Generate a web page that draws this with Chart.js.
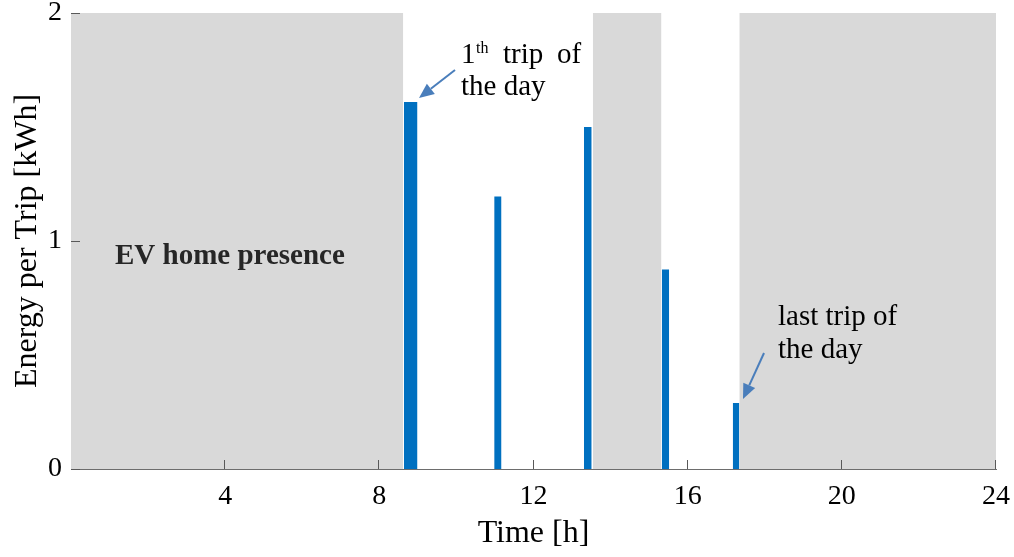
<!DOCTYPE html>
<html>
<head>
<meta charset="utf-8">
<script src="https://cdn.jsdelivr.net/npm/chart.js@4.4.1/dist/chart.umd.min.js"></script>
<style>
    body { margin: 0; background: #fff; }
    #wrap { width: 1014px; height: 557px; }
</style>
</head>
<body>
<div id="wrap"><canvas id="tripChart" width="1014" height="557"></canvas></div>
<script>
// Trips of the day: start / end time [h] and energy [kWh]
const tripStart = [8.64, 10.98, 13.31, 15.33, 17.17];
const tripEnd = [8.99, 11.17, 13.51, 15.52, 17.34];
const tripEnergy = [1.61, 1.195, 1.50, 0.875, 0.29];

// Periods when the EV is parked at home [h]
const homeStart = [0, 13.54, 17.34];
const homeEnd = [8.62, 15.32, 24];

const xTicks = [4, 8, 12, 16, 20, 24];
const yTicks = [0, 1, 2];

const serif = "'Liberation Serif', 'Times New Roman', serif";

// each trip is a filled segment from y = 0 up to its energy
const tripSets = tripEnergy.map((e, i) => ({
    data: [{ x: tripStart[i], y: e }, { x: tripEnd[i], y: e }],
    fill: 'origin',
    backgroundColor: '#0070c0',
    borderColor: 'transparent',
    borderWidth: 0,
    pointRadius: 0,
    order: 0
}));

// home presence shading fills the full height of the axis
const homeSets = homeStart.map((s, i) => ({
    data: [{ x: s, y: yTicks[yTicks.length - 1] }, { x: homeEnd[i], y: yTicks[yTicks.length - 1] }],
    fill: 'origin',
    backgroundColor: '#d9d9d9',
    borderColor: 'transparent',
    borderWidth: 0,
    pointRadius: 0,
    order: 1
}));

function arrow(ctx, x1, y1, x2, y2) {
    const ang = Math.atan2(y2 - y1, x2 - x1);
    const len = 15, half = 6.5;
    const bx = x2 - len * Math.cos(ang), by = y2 - len * Math.sin(ang);
    ctx.strokeStyle = '#4a7ebb';
    ctx.fillStyle = '#4a7ebb';
    ctx.lineWidth = 2;
    ctx.beginPath();
    ctx.moveTo(x1, y1);
    ctx.lineTo(bx, by);
    ctx.stroke();
    ctx.beginPath();
    ctx.moveTo(x2, y2);
    ctx.lineTo(bx + half * Math.sin(ang), by - half * Math.cos(ang));
    ctx.lineTo(bx - half * Math.sin(ang), by + half * Math.cos(ang));
    ctx.closePath();
    ctx.fill();
}

// inward tick marks and the text notes
const marks = {
    id: 'marks',
    afterDatasetsDraw(chart) {
        const { ctx, chartArea: a, scales: { x, y } } = chart;
        ctx.save();
        ctx.strokeStyle = '#595959';
        ctx.lineWidth = 1;
        ctx.beginPath();
        xTicks.forEach(v => {
            const px = Math.round(x.getPixelForValue(v)) - 0.5;
            ctx.moveTo(px, a.bottom);
            ctx.lineTo(px, a.bottom - 9);
        });
        yTicks.forEach(v => {
            const py = Math.round(y.getPixelForValue(v)) + 0.5;
            ctx.moveTo(a.left, py);
            ctx.lineTo(a.left + 9, py);
        });
        ctx.stroke();
        ctx.restore();
    },
    afterDraw(chart) {
        const ctx = chart.ctx;
        ctx.save();
        ctx.textBaseline = 'alphabetic';
        ctx.textAlign = 'left';

        ctx.fillStyle = '#262626';
        ctx.font = 'bold 29px ' + serif;
        ctx.fillText('EV home presence', 115, 264);

        ctx.fillStyle = '#000';
        ctx.font = '29px ' + serif;
        ctx.fillText('1', 461, 63);
        ctx.fillText('trip', 503, 63);
        ctx.fillText('of', 557, 63);
        ctx.fillText('the day', 461, 95);
        ctx.font = '16px ' + serif;
        ctx.fillText('th', 476, 53);

        ctx.font = '29px ' + serif;
        ctx.fillText('last trip of', 778, 325);
        ctx.fillText('the day', 778, 358);

        arrow(ctx, 455, 70, 419, 98);
        arrow(ctx, 764, 353, 743, 399);
        ctx.restore();
    }
};

const ctxTrip = document.getElementById('tripChart').getContext('2d');
const tripChart = new Chart(ctxTrip, {
    type: 'line',
    data: {
        datasets: tripSets.concat(homeSets)
    },
    options: {
        responsive: false,
        animation: false,
        layout: {
            padding: { top: 13, right: 18, left: 0, bottom: 0 }
        },
        plugins: {
            legend: { display: false },
            tooltip: { enabled: false }
        },
        scales: {
            x: {
                type: 'linear',
                min: 0,
                max: 24,
                grid: { display: false, drawTicks: false },
                border: { display: true, color: '#6d6d6d', width: 1 },
                afterBuildTicks: s => { s.ticks = xTicks.map(v => ({ value: v })); },
                afterFit: s => { s.height = 88; s.paddingLeft = 0; s.paddingRight = 0; },
                ticks: {
                    color: '#000',
                    padding: 11,
                    maxRotation: 0,
                    font: { family: serif, size: 28 }
                },
                title: {
                    display: true,
                    text: 'Time [h]',
                    color: '#000',
                    padding: { top: 0, bottom: 4 },
                    font: { family: serif, size: 32 }
                }
            },
            y: {
                min: 0,
                max: 2,
                grid: { display: false, drawTicks: false },
                border: { display: true, color: '#8c8c8c', width: 1 },
                afterBuildTicks: s => { s.ticks = yTicks.map(v => ({ value: v })); },
                afterFit: s => { s.width = 71; s.paddingTop = 0; s.paddingBottom = 0; },
                ticks: {
                    color: '#000',
                    padding: 9,
                    font: { family: serif, size: 28 }
                },
                title: {
                    display: true,
                    text: 'Energy per Trip [kWh]',
                    color: '#000',
                    padding: { top: 8, bottom: 0 },
                    font: { family: serif, size: 32 }
                }
            }
        }
    },
    plugins: [marks]
});
</script>
</body>
</html>
